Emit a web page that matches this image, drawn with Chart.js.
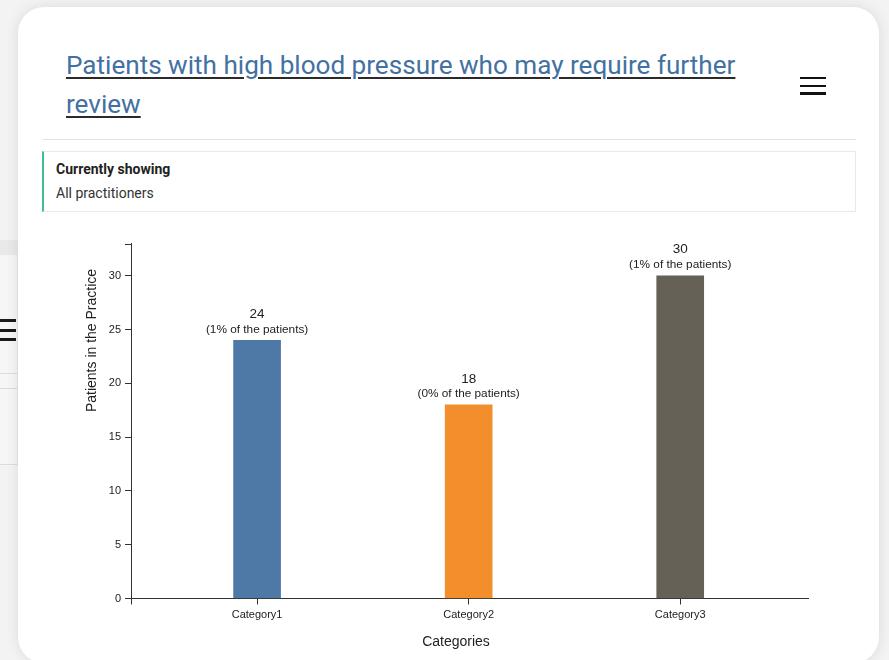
<!DOCTYPE html>
<html><head><meta charset="utf-8">
<script src="https://cdn.jsdelivr.net/npm/chart.js@4"></script>
<style>
html,body{margin:0;padding:0;width:889px;height:660px;overflow:hidden;background:#f3f3f3;font-family:Roboto,Arial,sans-serif;}
#side{position:absolute;left:-200px;top:240px;width:217px;height:226px;background:#f6f6f6;border-right:1px solid #e6e6e6;}
#side .hd{position:absolute;left:0;top:0;width:100%;height:15px;background:#e9e9e9;}
#side .ln{position:absolute;left:0;width:100%;height:1px;background:#dcdcdc;}
#side .hb{position:absolute;left:200px;width:16px;height:3px;background:#1a1a1a;}
#card{position:absolute;left:18px;top:7px;width:861px;height:656px;background:#fff;border-radius:26px;box-shadow:0 0 14px rgba(0,0,0,0.10);}
#title{position:absolute;left:66px;top:46px;width:700px;margin:0;font-family:Roboto,sans-serif;font-weight:400;font-size:26.1px;line-height:39px;color:#4371a2;text-decoration:underline;text-decoration-color:#2a2a2a;text-decoration-thickness:2px;text-underline-offset:3px;}
#menu{position:absolute;left:800px;top:76.5px;width:26px;height:19px;}
#menu i{position:absolute;left:0;width:26px;height:2.5px;background:#111;}
#divider{position:absolute;left:42px;top:139px;width:814px;height:1px;background:#e2e2e2;}
#info{position:absolute;left:42px;top:151px;width:811px;height:59px;border:1px solid #e9e9e9;border-left:2px solid #3fbf8b;}
#info .a{position:absolute;left:12px;top:9px;font-size:14px;font-weight:700;color:#222;}
#info .b{position:absolute;left:12px;top:33px;font-size:14px;color:#333;}
#wrap{position:absolute;left:42px;top:225px;width:814px;height:435px;}
</style></head><body>
<div id="side"><div class="hd"></div><div class="ln" style="top:133px"></div><div class="ln" style="top:148px"></div><div class="ln" style="top:224px"></div>
<div class="hb" style="top:79px"></div><div class="hb" style="top:89px"></div><div class="hb" style="top:98px"></div></div>
<div id="card"></div>
<div id="title">Patients with high blood pressure who may require further review</div>
<div id="menu"><i style="top:0"></i><i style="top:8px"></i><i style="top:15.5px"></i></div>
<div id="divider"></div>
<div id="info"><div class="a">Currently showing</div><div class="b">All practitioners</div></div>
<div id="wrap"><canvas id="c" width="814" height="435"></canvas></div>
<script>
const categories = ['Category1', 'Category2', 'Category3'];
const patientCounts = [24, 18, 30];
const patientPercents = [1, 0, 1];
const barColors = ['#4e79a7', '#f28e2c', '#656157'];
const yTickValues = [0, 5, 10, 15, 20, 25, 30];
const yMax = 33;
const xTitle = 'Categories';
const yTitle = 'Patients in the Practice';

const decorPlugin = {
  id: 'decor',
  afterDraw(chart) {
    const ctx = chart.ctx;
    const a = chart.chartArea;
    ctx.save();
    ctx.strokeStyle = '#333';
    ctx.lineWidth = 1;
    ctx.beginPath();
    ctx.moveTo(a.left - 6, Math.round(a.top) + 0.5);
    ctx.lineTo(a.left, Math.round(a.top) + 0.5);
    ctx.moveTo(Math.round(a.left) + 0.5, a.bottom);
    ctx.lineTo(Math.round(a.left) + 0.5, a.bottom + 6);
    ctx.stroke();
    ctx.fillStyle = '#222';
    ctx.font = '14px Arial';
    ctx.textAlign = 'center';
    ctx.textBaseline = 'middle';
    ctx.fillText(xTitle, (a.left + a.right) / 2 - 13.5, a.bottom + 43.5);
    ctx.translate(a.left - 38.5, a.top + 97);
    ctx.rotate(-Math.PI / 2);
    ctx.fillText(yTitle, 0, 0);
    ctx.restore();
  },
  afterDatasetsDraw(chart) {
    const ctx = chart.ctx;
    const meta = chart.getDatasetMeta(0);
    ctx.save();
    ctx.fillStyle = '#222';
    ctx.textAlign = 'center';
    ctx.textBaseline = 'middle';
    meta.data.forEach((bar, i) => {
      ctx.font = '13.5px Arial';
      ctx.fillText(String(patientCounts[i]), bar.x, bar.y - 26);
      ctx.font = '11.8px Arial';
      ctx.fillText('(' + patientPercents[i] + '% of the patients)', bar.x, bar.y - 11);
    });
    ctx.restore();
  }
};

new Chart(document.getElementById('c'), {
  type: 'bar',
  data: {
    datasets: [{
      data: categories.map((c, i) => ({ x: i, y: patientCounts[i] })),
      backgroundColor: barColors,
      borderWidth: 0,
      barThickness: 47
    }]
  },
  options: {
    responsive: false,
    animation: false,
    devicePixelRatio: 1,
    layout: { padding: { top: 18.5, left: 0, right: 48, bottom: 0 } },
    plugins: { legend: { display: false }, tooltip: { enabled: false } },
    scales: {
      x: {
        type: 'linear', min: -0.596, max: 2.604, offset: false,
        grid: { display: true, drawOnChartArea: false, drawTicks: true, tickLength: 6, color: '#333', offset: false },
        border: { display: true, color: '#333', width: 1 },
        ticks: { padding: 4, color: '#222', font: { family: 'Arial', size: 11 }, maxRotation: 0, autoSkip: false,
          callback: (v) => categories[v] },
        afterBuildTicks: (s) => { s.ticks = categories.map((c, i) => ({ value: i })); },
        afterFit: (s) => { s.height = 61.5; }
      },
      y: {
        min: 0, max: yMax,
        grid: { display: true, drawOnChartArea: false, drawTicks: true, tickLength: 6, color: '#333' },
        border: { display: true, color: '#333', width: 1 },
        ticks: { padding: 4, color: '#222', font: { family: 'Arial', size: 11 } },
        afterBuildTicks: (s) => { s.ticks = yTickValues.map(v => ({ value: v })); },
        afterFit: (s) => { s.width = 89; }
      }
    }
  },
  plugins: [decorPlugin]
});
</script>
</body></html>
